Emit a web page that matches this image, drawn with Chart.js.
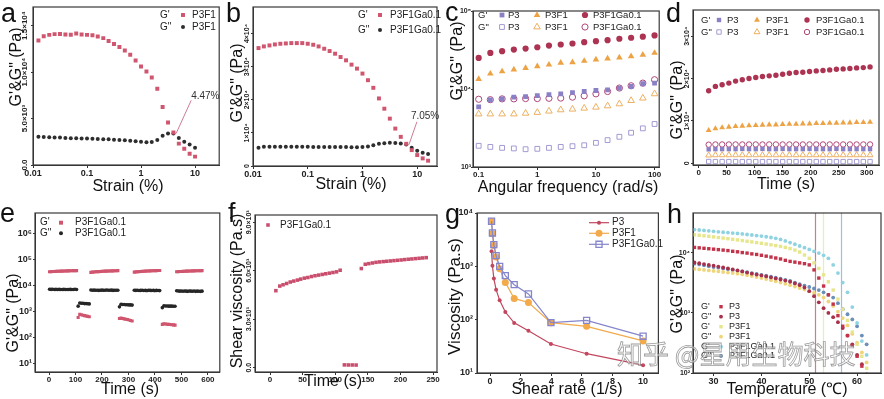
<!DOCTYPE html>
<html><head><meta charset="utf-8">
<script src="https://cdn.jsdelivr.net/npm/chart.js@4.4.0/dist/chart.umd.min.js"></script>
<style>
html,body{margin:0;padding:0;background:#fff;}
#wrap{position:relative;width:884px;height:399px;overflow:hidden;background:#fff;}
canvas{position:absolute;}
#wm{position:absolute;left:617px;top:340px;font-size:26px;font-family:"Noto Sans CJK SC",sans-serif;line-height:1;color:rgba(255,255,255,0.55);-webkit-text-stroke:0.8px rgba(120,120,120,0.75);white-space:nowrap;pointer-events:none;}
</style></head><body>
<div id="wrap">
<canvas id="pa" width="222" height="200" style="left:0px;top:0px"></canvas>
<canvas id="pb" width="220" height="200" style="left:222px;top:0px"></canvas>
<canvas id="pc" width="222" height="200" style="left:442px;top:0px"></canvas>
<canvas id="pd" width="220" height="200" style="left:664px;top:0px"></canvas>
<canvas id="pe" width="222" height="199" style="left:0px;top:200px"></canvas>
<canvas id="pf" width="220" height="199" style="left:222px;top:200px"></canvas>
<canvas id="pg" width="222" height="199" style="left:442px;top:200px"></canvas>
<canvas id="ph" width="220" height="199" style="left:664px;top:200px"></canvas>
<div id="wm">知乎 @星用生物科技</div>
</div>
<script>
// ---------------- DATA ----------------
const sampleNames = ['P3', 'P3F1', 'P3F1Ga0.1'];
const modNames = ["G'", 'G"'];

// a: strain sweep P3F1
const aStrain = [0.0126,0.0158,0.02,0.0251,0.0316,0.0398,0.0501,0.0631,0.0794,0.1,0.126,0.158,0.2,0.251,0.316,0.398,0.501,0.631,0.794,1,1.26,1.58,2,2.51,3.16,3.98,5.01,6.31,7.94,10];
const aGp = [13400,13850,14000,14080,14100,14050,14020,14150,14050,14000,13950,13820,13650,13350,13020,12700,12330,11870,11250,10600,10070,9420,8200,6250,4570,3500,2300,1750,1200,900];
const aGpp = [3050,3000,2980,2950,2950,2900,2880,2870,2850,2840,2820,2800,2780,2760,2730,2700,2660,2620,2560,2500,2450,2480,2700,3150,3400,3380,2900,2500,2200,1850];
const aYield = [4.47, 3400];
const aXTicks = [0.01,0.1,1,10], aXLabels = ['0.01','0.1','1','10'];
const aYTicks = [0,5000,10000,15000], aYLabels = ['0.0','5.0×10³','1.0×10⁴','1.5×10⁴'];

// b: strain sweep P3F1Ga0.1
const bStrain = [0.0126,0.0158,0.02,0.0251,0.0316,0.0398,0.0501,0.0631,0.0794,0.1,0.126,0.158,0.2,0.251,0.316,0.398,0.501,0.631,0.794,1,1.26,1.58,2,2.51,3.16,3.98,5.01,6.31,7.94,10,12.6,15.8];
const bGp = [35600,36100,36400,36700,36900,37000,37100,37100,37100,36900,36600,36100,35400,34700,33900,32900,31900,30600,29400,27900,25900,23600,20400,17300,14300,11300,8800,6700,4800,3300,2300,1600];
const bGpp = [5500,5800,5800,5800,5800,5800,5800,5800,5800,5800,5750,5750,5750,5700,5700,5700,5700,5650,5650,5700,5900,6300,6700,6900,7000,6950,6800,6500,5500,4600,4000,3600];
const bYield = [7.05, 6400];
const bYTicks = [0,10000,20000,30000,40000], bYLabels = ['0','1×10⁴','2×10⁴','3×10⁴','4×10⁴'];

// c: frequency sweep
const cFreq = [0.1,0.158,0.251,0.398,0.631,1,1.58,2.51,3.98,6.31,10,15.8,25.1,39.8,63.1,100];
const cP3Gp = [5900,7250,7460,7850,8000,8240,8450,8670,9010,9290,9570,9770,10280,10770,11670,11900];
const cP3Gpp = [1870,1810,1760,1730,1690,1710,1760,1810,1850,1900,2040,2210,2440,2750,3130,3560];
const cF1Gp = [13400,15700,16800,17700,18600,19500,20500,21600,22000,22900,23800,24500,25300,26300,27400,29000];
const cF1Gpp = [4780,4780,4780,4780,4880,5000,5200,5400,5510,5670,5840,6070,6440,7110,7640,8670];
const cGaGp = [25000,29000,30500,32000,33000,34300,36000,37200,38300,39800,41000,42300,44100,45400,46800,48600];
const cGaGpp = [7390,7300,7470,7470,7540,7540,7600,7640,7860,8170,8670,9290,10280,11000,11900,13150];
const cXTicks = [0.1,1,10,100], cXLabels = ['0.1','1','10','100'];
const cYTicks = [1000,10000,100000], cYLabels = ['10³','10⁴','10⁵'];

// d: time sweep
const dTime = [18,30,42,54,66,78,90,102,114,126,138,150,162,174,186,198,210,222,234,246,258,270,282,294,306];
const dP3Gp = [3300,3350,3350,3350,3350,3400,3350,3350,3400,3350,3350,3400,3350,3350,3350,3400,3350,3350,3350,3400,3350,3350,3350,3350,3350];
const dP3Gpp = [420,400,400,400,410,400,400,400,400,400,400,400,400,400,400,400,400,400,400,400,400,400,400,400,400];
const dF1Gp = [7790,8180,8420,8570,8730,8810,8890,8960,9040,9120,9120,9200,9270,9270,9350,9350,9430,9430,9510,9510,9590,9590,9660,9660,9740];
const dF1Gpp = [1900,1950,1950,1950,1950,1950,1950,1950,1950,1950,1950,1950,1950,1950,1950,1950,1950,1950,1950,1950,1950,1950,1950,1950,1950];
const dGaGp = [17150,18160,18550,18940,19410,19720,20030,20260,20500,20650,20810,21040,21280,21430,21510,21670,21820,21900,22060,22210,22290,22370,22530,22600,22760];
const dGaGpp = [4400,4450,4450,4450,4450,4450,4450,4450,4450,4450,4450,4450,4450,4450,4450,4450,4450,4450,4450,4450,4450,4450,4450,4450,4450];
const dXTicks = [0,50,100,150,200,250,300], dXLabels = ['0','50','100','150','200','250','300'];
const dYTicks = [0,10000,20000,30000], dYLabels = ['0','1×10⁴','2×10⁴','3×10⁴'];

// e: step strain recovery
const eTime = [2,8,14,20,26,32,38,44,50,56,62,68,74,80,86,92,98,104,
  110,116,122,128,134,140,146,152,
  158,164,170,176,182,188,194,200,206,212,218,224,230,236,242,248,254,260,
  266,272,278,284,290,296,302,308,314,
  322,328,334,340,346,352,358,364,370,376,382,388,394,400,406,412,418,
  428,434,440,446,452,458,464,470,476,
  482,488,494,500,506,512,518,524,530,536,542,548,554,560,566,572,578];
const eGp = [33000,33500,33800,34000,34300,34500,34800,35000,35200,35400,35600,35800,36000,36200,36300,36500,36700,36800,
  590,770,750,720,690,670,650,630,
  31500,32200,32600,33000,33400,33700,34000,34300,34600,34900,35200,35400,35600,35800,36000,36200,36400,36600,
  540,560,540,520,500,490,470,450,430,
  32000,32700,33200,33600,34000,34400,34700,35000,35300,35600,35900,36100,36300,36500,36700,36900,37100,
  320,340,330,325,320,315,310,305,300,
  33000,33400,33800,34100,34400,34700,34900,35100,35300,35500,35700,35900,36100,36200,36400,36500,36700];
const eGpp = [7100,7000,7050,6950,7000,6900,7000,6950,6900,7000,6950,6900,6950,7000,6900,6950,7050,6900,
  1600,2100,2050,2050,2000,2000,1980,1950,
  6600,6500,6550,6450,6500,6400,6500,6550,6450,6500,6600,6450,6500,6550,6400,6500,6450,6500,
  1500,1900,1850,1850,1800,1800,1780,1780,1750,
  6500,6400,6450,6350,6400,6450,6350,6400,6300,6450,6400,6350,6400,6300,6400,6350,6300,
  1400,1650,1620,1620,1600,1600,1600,1580,1580,
  6200,6100,6000,6100,5950,6050,6000,5900,6100,6000,5950,6050,5900,6000,5950,5900,6000];
const eXTicks = [0,100,200,300,400,500,600], eXLabels = ['0','100','200','300','400','500','600'];
const eYTicks = [10,100,1000,10000,100000,1000000], eYLabels = ['10¹','10²','10³','10⁴','10⁵','10⁶'];

// f: shear viscosity recovery
const fTime = [9,15,20,25.5,31,36.5,42,47,52.5,58,63.5,69,74.5,80,85.5,91,96.5,102,107.5,
  114,120,126,132,
  140,146,151.5,157,162.5,168,173.5,179,184.5,190,195.5,201,206.5,212,217.5,223,228.5,234,239.5];
const fVisc = [4765,5050,5130,5210,5300,5360,5420,5480,5540,5580,5640,5690,5730,5770,5810,5850,5890,5930,6030,
  170,165,165,160,
  6135,6400,6440,6480,6520,6545,6565,6585,6605,6625,6645,6665,6690,6710,6730,6750,6770,6790,6810];
const fXTicks = [0,50,100,150,200,250], fXLabels = ['0','50','100','150','200','250'];
const fYTicks = [0,3000,6000,9000], fYLabels = ['0.0','3.0×10³','6.0×10³','9.0×10³'];

// g: viscosity vs shear rate
const gRate = [0.1,0.158,0.251,0.398,0.631,1,1.58,2.51,3.98,6.31,10];
const gP3 = [1910,1030,590,365,230,139,87,62,35,23,14];
const gF1 = [6900,4100,2450,1500,900,500,250,210,88,75,40];
const gGa = [7000,4220,2550,1590,1000,670,453,303,88,97,49];
const gXTicks = [0,2,4,6,8,10], gXLabels = ['0','2','4','6','8','10'];
const gYTicks = [10,100,1000,10000], gYLabels = ['10¹','10²','10³','10⁴'];

// h: temperature sweep
const hTemp = [26,27,28,29,30,31,32,33,34,35,36,37,38,39,40,41,42,43,44,45,46,47,48,49,50,51,52,53,54,55,56,57,58,59,60,61,62];
const hP3Gp = [12300,12100,11900,11700,11500,11300,11100,10900,10600,10400,10100,9900,9600,9400,9100,8800,8500,8200,7900,7500,7200,7000,6800,6600,6300,5200,3800,2800,2000,1400,900,600,420,290,190,130,90];
const hP3Gpp = [6900,6700,6500,6300,6100,5900,5700,5500,5300,5100,4900,4700,4500,4350,4200,4050,3900,3750,3600,3450,3300,3100,2900,2650,2300,1900,1500,1200,1000,850,700,560,420,300,200,140,95];
const hF1Gp = [20000,19600,19200,18800,18400,18000,17600,17200,16800,16400,16000,15600,15200,14800,14400,14000,13600,13200,12800,12300,11800,11100,10300,9200,8100,6800,5500,4300,3300,2400,1700,1150,750,480,300,190,120];
const hF1Gpp = [5400,5300,5200,5100,5000,4900,4800,4700,4600,4500,4400,4250,4100,3950,3800,3650,3500,3350,3200,3050,2900,2750,2600,2450,2300,2150,2000,1800,1550,1300,1050,820,620,450,320,220,150];
const hGaGp = [24400,24000,23600,23200,22800,22400,22000,21700,21300,21000,20600,20200,19800,19400,19000,18500,18000,17400,16700,15800,14800,13900,13000,12200,11400,10600,9900,9100,8100,6300,4600,3200,2200,1250,680,340,200];
const hGaGpp = [6600,6400,6200,6000,5800,5650,5500,5350,5200,5050,4900,4750,4600,4450,4300,4150,4000,3850,3700,3550,3400,3200,3000,2850,2700,2550,2400,2200,2000,1800,1450,1150,950,780,600,420,300];
const hGelT = [51.1, 52.9, 56.6];
const hXTicks = [30,40,50,60], hXLabels = ['30','40','50','60'];
const hYTicks = [100,1000,10000], hYLabels = ['10²','10³','10⁴'];

// ---------------- HELPERS ----------------
const FONT = 'Arial, "Liberation Sans", Helvetica, sans-serif';
Chart.defaults.font.family = FONT;
Chart.defaults.color = '#222';

function pts(xs, ys) { const o = []; for (let i = 0; i < xs.length; i++) if (ys[i] != null) o.push({x: xs[i], y: ys[i]}); return o; }

function measureWidest(labels, size) {
  const c = document.createElement('canvas').getContext('2d');
  c.font = 'bold ' + size + 'px ' + FONT;
  let w = 0; labels.forEach(l => { w = Math.max(w, c.measureText(l).width); });
  return w;
}

function xAxis(o) {
  return {
    type: o.type || 'linear', min: o.min, max: o.max,
    grid: {display: true, drawOnChartArea: false, drawTicks: true, tickLength: 3, color: '#333', lineWidth: 1},
    border: {display: true, color: '#333', width: 1},
    ticks: {autoSkip: false, maxRotation: 0, minRotation: 0, padding: 0, color: '#222',
      font: {family: FONT, size: o.size || 9, weight: 'bold'},
      callback: (v, i) => o.labels[i]},
    afterBuildTicks: s => { s.ticks = o.ticks.map(v => ({value: v})); },
    afterFit: s => { s.height = o.h; s.paddingLeft = 0; s.paddingRight = 0; }
  };
}
function yAxis(o) {
  const tl = 2;
  let padding = o.pad != null ? o.pad : 1;
  if (o.rotated) padding = o.center - tl - measureWidest(o.labels, o.size) / 2;
  return {
    type: o.type || 'linear', min: o.min, max: o.max,
    grid: {display: true, drawOnChartArea: false, drawTicks: true, tickLength: tl, color: '#333', lineWidth: 1},
    border: {display: true, color: '#333', width: 1},
    ticks: {autoSkip: false, padding, color: '#222',
      minRotation: o.rotated ? 90 : 0, maxRotation: o.rotated ? 90 : 0,
      crossAlign: o.rotated ? 'center' : 'near',
      font: {family: FONT, size: o.size, weight: 'bold'},
      callback: (v, i) => o.labels[i]},
    afterBuildTicks: s => { s.ticks = o.ticks.map(v => ({value: v})); },
    afterFit: s => { s.width = o.w; s.paddingTop = 0; s.paddingBottom = 0; }
  };
}
function ds(data, mk, extra) {
  return Object.assign({
    data, pointStyle: mk.style, pointRadius: mk.r, pointHoverRadius: mk.r,
    pointBackgroundColor: mk.fill || 'rgba(0,0,0,0)',
    pointBorderColor: mk.stroke || mk.fill, pointBorderWidth: mk.lw || 0,
    backgroundColor: mk.fill || 'rgba(0,0,0,0)', borderColor: mk.stroke || mk.fill,
    showLine: false
  }, extra || {});
}
function drawMk(ctx, mk, x, y) {
  ctx.save();
  const r = mk.lr || mk.r;
  ctx.beginPath();
  if (mk.style === 'rect') { const s = r * Math.SQRT1_2; ctx.rect(x - s, y - s, 2 * s, 2 * s); }
  else if (mk.style === 'triangle') { ctx.moveTo(x, y - r); ctx.lineTo(x + r * 0.866, y + r * 0.5); ctx.lineTo(x - r * 0.866, y + r * 0.5); ctx.closePath(); }
  else ctx.arc(x, y, r, 0, Math.PI * 2);
  if (mk.fill) { ctx.fillStyle = mk.fill; ctx.fill(); }
  if (mk.lw) { ctx.strokeStyle = mk.stroke; ctx.lineWidth = mk.lw; ctx.stroke(); }
  ctx.restore();
}

const DECO = {};
const decoPlugin = {
  id: 'deco',
  beforeDatasetsDraw(chart) {
    const d = DECO[chart.canvas.id]; if (!d || !d.vlines) return;
    const ctx = chart.ctx, ca = chart.chartArea;
    ctx.save();
    d.vlines.forEach(v => {
      const px = Math.round(chart.scales.x.getPixelForValue(v.x)) + 0.5;
      ctx.strokeStyle = v.color; ctx.lineWidth = 1.2;
      ctx.beginPath(); ctx.moveTo(px, ca.top); ctx.lineTo(px, ca.bottom); ctx.stroke();
    });
    ctx.restore();
  },
  afterDraw(chart) {
    const d = DECO[chart.canvas.id]; if (!d) return;
    const ctx = chart.ctx, ca = chart.chartArea;
    ctx.save();
    ctx.strokeStyle = '#3a3a3a'; ctx.lineWidth = 1.2;
    ctx.strokeRect(ca.left, ca.top, ca.right - ca.left, ca.bottom - ca.top);
    // panel letter
    ctx.fillStyle = '#111'; ctx.textAlign = 'left'; ctx.textBaseline = 'alphabetic';
    ctx.font = '27px ' + FONT;
    ctx.fillText(d.letter, d.letterPos[0], d.letterPos[1]);
    // axis titles
    ctx.textAlign = 'center'; ctx.textBaseline = 'middle';
    ctx.font = (d.xSize || 16) + 'px ' + FONT;
    ctx.fillText(d.xTitle, d.xT[0], d.xT[1]);
    ctx.save(); ctx.translate(d.yT[0], d.yT[1]); ctx.rotate(-Math.PI / 2);
    ctx.font = (d.ySize || 16) + 'px ' + FONT; ctx.fillText(d.yTitle, 0, 0); ctx.restore();
    // legend
    if (d.legend) {
      ctx.font = (d.legend.size || 9.5) + 'px ' + FONT; ctx.fillStyle = '#222';
      ctx.textAlign = 'left'; ctx.textBaseline = 'middle';
      d.legend.rows.forEach(row => {
        if (row.prefix) { ctx.fillStyle = '#222'; ctx.fillText(row.prefix, row.px, row.y); }
        row.cells.forEach(c => {
          const mk = chart.data.datasets[c.ds]._mk;
          if (c.line) { ctx.strokeStyle = c.line; ctx.lineWidth = 1.2; ctx.beginPath(); ctx.moveTo(c.mx - 10, row.y); ctx.lineTo(c.mx + 10, row.y); ctx.stroke(); }
          drawMk(ctx, mk, c.mx, row.y);
          ctx.fillStyle = '#222'; ctx.fillText(chart.data.datasets[c.ds].label, c.tx, row.y);
        });
      });
    }
    // yield annotation
    if (d.annot) {
      const a = d.annot;
      const px = chart.scales.x.getPixelForValue(a.x), py = chart.scales.y.getPixelForValue(a.y);
      ctx.strokeStyle = '#cf7a92'; ctx.lineWidth = 1;
      ctx.beginPath(); ctx.moveTo(px, py); ctx.lineTo(px + a.lx, py + a.ly); ctx.stroke();
      ctx.fillStyle = '#333'; ctx.font = '10px ' + FONT; ctx.textAlign = 'left'; ctx.textBaseline = 'middle';
      ctx.fillText(a.text, px + a.tx, py + a.ty);
    }
    ctx.restore();
  }
};

function makeChart(id, p) {
  const datasets = p.datasets.map(x => { const dset = ds(x.data, x.mk, x.extra); dset.label = x.label; dset._mk = x.mk; return dset; });
  DECO[id] = p.deco;
  return new Chart(document.getElementById(id), {
    type: 'scatter',
    data: {datasets},
    options: {
      responsive: false, animation: false, devicePixelRatio: 1,
      layout: {padding: {left: 0, right: p.padR, top: p.padT, bottom: 0}},
      plugins: {legend: {display: false}, tooltip: {enabled: false}},
      scales: {x: p.x, y: p.y}
    },
    plugins: [decoPlugin]
  });
}

// ---------------- STYLES ----------------
const MK = {
  redSq: {style: 'rect', r: 2.8, fill: '#d0566f'},
  darkCi: {style: 'circle', r: 2, fill: '#2e2e2e'},
  cP3: {style: 'rect', r: 3.4, fill: '#8a80c6'},
  cP3o: {style: 'rect', r: 3.4, stroke: '#a29bd2', lw: 1},
  cF1: {style: 'triangle', r: 3.8, fill: '#eda244'},
  cF1o: {style: 'triangle', r: 3.8, stroke: '#ecb062', lw: 1},
  cGa: {style: 'circle', r: 3.1, fill: '#ad3352'},
  cGao: {style: 'circle', r: 3.1, stroke: '#ae4678', lw: 1},
  dP3: {style: 'rect', r: 3.1, fill: '#8a80c6'},
  dP3o: {style: 'rect', r: 3.1, stroke: '#a29bd2', lw: 1},
  dF1: {style: 'triangle', r: 3.4, fill: '#eda244'},
  dF1o: {style: 'triangle', r: 3.4, stroke: '#ecb062', lw: 1},
  dGa: {style: 'circle', r: 2.7, fill: '#ad3352'},
  dGao: {style: 'circle', r: 2.7, stroke: '#ae4678', lw: 1},
  eSq: {style: 'rect', r: 2.2, fill: '#d0566f', lr: 2.8},
  eCi: {style: 'circle', r: 1.8, fill: '#262626', lr: 2},
  fSq: {style: 'rect', r: 2.5, fill: '#c94d6c'},
  gP3: {style: 'circle', r: 2, fill: '#c2465e'},
  gF1: {style: 'circle', r: 3.5, fill: '#f2aa4a'},
  gGa: {style: 'rect', r: 4.3, stroke: '#8585cc', lw: 1.3},
  hP3: {style: 'rect', r: 2.4, fill: '#c2334a'},
  hP3o: {style: 'circle', r: 1.9, fill: '#a8304a'},
  hF1: {style: 'rect', r: 2.4, fill: '#e6e68c'},
  hF1o: {style: 'circle', r: 1.9, fill: '#f0d47a'},
  hGa: {style: 'circle', r: 1.9, fill: '#8fd3e3'},
  hGao: {style: 'circle', r: 1.9, fill: '#6a8fb8'}
};

// ---------------- PANELS ----------------
makeChart('pa', {
  padT: 7, padR: 1,
  x: xAxis({type: 'logarithmic', min: 0.01, max: 28, ticks: aXTicks, labels: aXLabels, h: 35, size: 9}),
  y: yAxis({min: 0, max: 17000, ticks: aYTicks, labels: aYLabels, w: 33, size: 8, rotated: true, center: 8}),
  datasets: [
    {label: sampleNames[1], data: pts(aStrain, aGp), mk: MK.redSq},
    {label: sampleNames[1], data: pts(aStrain, aGpp), mk: MK.darkCi}
  ],
  deco: {letter: 'a', letterPos: [1, 22], xTitle: 'Strain (%)', xT: [128, 187], yTitle: 'G\'&G" (Pa)', yT: [17, 67],
    legend: {size: 10, rows: [
      {y: 15, prefix: modNames[0], px: 160, cells: [{ds: 0, mx: 183, tx: 192}]},
      {y: 27, prefix: modNames[1], px: 160, cells: [{ds: 1, mx: 183, tx: 192}]}]},
    annot: {x: aYield[0], y: aYield[1], lx: 15, ly: -33, tx: 15, ty: -37, text: aYield[0].toFixed(2) + '%'}}
});

makeChart('pb', {
  padT: 7, padR: 5,
  x: xAxis({type: 'logarithmic', min: 0.01, max: 23, ticks: aXTicks, labels: aXLabels, h: 34, size: 9}),
  y: yAxis({min: 0, max: 48000, ticks: bYTicks, labels: bYLabels, w: 31, size: 7, rotated: true, center: 6}),
  datasets: [
    {label: sampleNames[2], data: pts(bStrain, bGp), mk: MK.redSq},
    {label: sampleNames[2], data: pts(bStrain, bGpp), mk: MK.darkCi}
  ],
  deco: {letter: 'b', letterPos: [4, 22], xTitle: 'Strain (%)', xT: [129, 185], yTitle: 'G\'&G" (Pa)', yT: [16, 83],
    legend: {size: 10, rows: [
      {y: 15, prefix: modNames[0], px: 136, cells: [{ds: 0, mx: 158, tx: 168}]},
      {y: 30, prefix: modNames[1], px: 136, cells: [{ds: 1, mx: 158, tx: 168}]}]},
    annot: {x: bYield[0], y: bYield[1], lx: 8, ly: -23, tx: 2, ty: -29, text: bYield[0].toFixed(2) + '%'}}
});

makeChart('pc', {
  padT: 11, padR: 4,
  x: xAxis({type: 'logarithmic', min: 0.08, max: 120, ticks: cXTicks, labels: cXLabels, h: 33, size: 8}),
  y: yAxis({type: 'logarithmic', min: 1000, max: 100000, ticks: cYTicks, labels: cYLabels, w: 31, size: 7, pad: 0}),
  datasets: [
    {label: sampleNames[0], data: pts(cFreq, cP3Gp), mk: MK.cP3},
    {label: sampleNames[1], data: pts(cFreq, cF1Gp), mk: MK.cF1},
    {label: sampleNames[2], data: pts(cFreq, cGaGp), mk: MK.cGa},
    {label: sampleNames[0], data: pts(cFreq, cP3Gpp), mk: MK.cP3o},
    {label: sampleNames[1], data: pts(cFreq, cF1Gpp), mk: MK.cF1o},
    {label: sampleNames[2], data: pts(cFreq, cGaGpp), mk: MK.cGao}
  ],
  deco: {letter: 'c', letterPos: [3, 21], xTitle: 'Angular frequency (rad/s)', xT: [126, 188], yTitle: 'G\'&G" (Pa)', yT: [15.5, 61],
    legend: {size: 9.5, rows: [
      {y: 15, prefix: modNames[0], px: 36, cells: [{ds: 0, mx: 60, tx: 66}, {ds: 1, mx: 95, tx: 103}, {ds: 2, mx: 143, tx: 151}]},
      {y: 27, prefix: modNames[1], px: 36, cells: [{ds: 3, mx: 60, tx: 66}, {ds: 4, mx: 95, tx: 103}, {ds: 5, mx: 143, tx: 151}]}]}}
});

makeChart('pd', {
  padT: 10, padR: 5,
  x: xAxis({min: -10, max: 322, ticks: dXTicks, labels: dXLabels, h: 35, size: 8}),
  y: yAxis({min: -400, max: 36200, ticks: dYTicks, labels: dYLabels, w: 29, size: 7, rotated: true, center: 6}),
  datasets: [
    {label: sampleNames[0], data: pts(dTime, dP3Gp), mk: MK.dP3},
    {label: sampleNames[1], data: pts(dTime, dF1Gp), mk: MK.dF1},
    {label: sampleNames[2], data: pts(dTime, dGaGp), mk: MK.dGa},
    {label: sampleNames[0], data: pts(dTime, dP3Gpp), mk: MK.dP3o},
    {label: sampleNames[1], data: pts(dTime, dF1Gpp), mk: MK.dF1o},
    {label: sampleNames[2], data: pts(dTime, dGaGpp), mk: MK.dGao}
  ],
  deco: {letter: 'd', letterPos: [2, 22], xTitle: 'Time (s)', xT: [122, 185], yTitle: 'G\'&G" (Pa)', yT: [14, 100],
    legend: {size: 9.5, rows: [
      {y: 20, prefix: modNames[0], px: 37, cells: [{ds: 0, mx: 55, tx: 63}, {ds: 1, mx: 93, tx: 102}, {ds: 2, mx: 143, tx: 152}]},
      {y: 32, prefix: modNames[1], px: 37, cells: [{ds: 3, mx: 55, tx: 63}, {ds: 4, mx: 93, tx: 102}, {ds: 5, mx: 143, tx: 152}]}]}}
});

makeChart('pe', {
  padT: 13, padR: 0,
  x: xAxis({min: -53, max: 645, ticks: eXTicks, labels: eXLabels, h: 27, size: 8}),
  y: yAxis({type: 'logarithmic', min: 4.8, max: 5.9e6, ticks: eYTicks, labels: eYLabels, w: 35, size: 9, pad: 1}),
  datasets: [
    {label: sampleNames[2], data: pts(eTime, eGp), mk: MK.eSq},
    {label: sampleNames[2], data: pts(eTime, eGpp), mk: MK.eCi}
  ],
  deco: {letter: 'e', letterPos: [0, 22], xTitle: 'Time (s)', xT: [130, 190], yTitle: 'G\'&G" (Pa)', yT: [14, 113],
    legend: {size: 10, rows: [
      {y: 22.7, prefix: modNames[0], px: 40, cells: [{ds: 0, mx: 61, tx: 75}]},
      {y: 33.3, prefix: modNames[1], px: 40, cells: [{ds: 1, mx: 61, tx: 75}]}]}}
});

makeChart('pf', {
  padT: 15, padR: 5,
  x: xAxis({min: -23, max: 256, ticks: fXTicks, labels: fXLabels, h: 27, size: 8}),
  y: yAxis({min: -270, max: 9450, ticks: fYTicks, labels: fYLabels, w: 33, size: 7, rotated: true, center: 6}),
  datasets: [
    {label: sampleNames[2], data: pts(fTime, fVisc), mk: MK.fSq}
  ],
  deco: {letter: 'f', letterPos: [6, 22], xTitle: 'Time (s)', xT: [111, 182], yTitle: 'Shear viscosity (Pa.s)', yT: [16, 91],
    legend: {size: 10, rows: [{y: 25, cells: [{ds: 0, mx: 46, tx: 58}]}]}}
});

makeChart('pg', {
  padT: 13, padR: 1,
  x: xAxis({min: -0.85, max: 11, ticks: gXTicks, labels: gXLabels, h: 26, size: 9}),
  y: yAxis({type: 'logarithmic', min: 10, max: 10000, ticks: gYTicks, labels: gYLabels, w: 35, size: 9, pad: 2}),
  datasets: [
    {label: sampleNames[2], data: pts(gRate, gGa), mk: MK.gGa, extra: {showLine: true, borderColor: '#8585cc', borderWidth: 1.2, order: 0}},
    {label: sampleNames[1], data: pts(gRate, gF1), mk: MK.gF1, extra: {showLine: true, borderColor: '#f2aa4a', borderWidth: 1.2, order: 1}},
    {label: sampleNames[0], data: pts(gRate, gP3), mk: MK.gP3, extra: {showLine: true, borderColor: '#c2465e', borderWidth: 1.2, order: 2}}
  ],
  deco: {letter: 'g', letterPos: [3, 23], xTitle: 'Shear rate (1/s)', xT: [125, 190], yTitle: 'Viscosity (Pa.s)', ySize: 17, yT: [13, 96.5],
    legend: {size: 10, rows: [
      {y: 22.7, cells: [{ds: 2, mx: 157, tx: 170, line: '#c2465e'}]},
      {y: 33.3, cells: [{ds: 1, mx: 157, tx: 170, line: '#f2aa4a'}]},
      {y: 44.3, cells: [{ds: 0, mx: 157, tx: 170, line: '#8585cc'}]}]}}
});

makeChart('ph', {
  padT: 13, padR: 3,
  x: xAxis({min: 25.7, max: 65, ticks: hXTicks, labels: hXLabels, h: 26, size: 9}),
  y: yAxis({type: 'logarithmic', min: 100, max: 46000, ticks: hYTicks, labels: hYLabels, w: 29, size: 7, pad: 1}),
  datasets: [
    {label: sampleNames[0], data: pts(hTemp, hP3Gp), mk: MK.hP3, extra: {clip: 0}},
    {label: sampleNames[0], data: pts(hTemp, hP3Gpp), mk: MK.hP3o, extra: {clip: 0}},
    {label: sampleNames[1], data: pts(hTemp, hF1Gp), mk: MK.hF1, extra: {clip: 0}},
    {label: sampleNames[1], data: pts(hTemp, hF1Gpp), mk: MK.hF1o, extra: {clip: 0}},
    {label: sampleNames[2], data: pts(hTemp, hGaGp), mk: MK.hGa, extra: {clip: 0}},
    {label: sampleNames[2], data: pts(hTemp, hGaGpp), mk: MK.hGao, extra: {clip: 0}}
  ],
  deco: {letter: 'h', letterPos: [3, 23], xTitle: 'Temperature (℃)', xT: [123, 190], yTitle: 'G\'&G" (Pa)', yT: [14, 94],
    vlines: [{x: hGelT[0], color: '#d27a88'}, {x: hGelT[1], color: '#ecebb0'}, {x: hGelT[2], color: '#9fbfdc'}],
    legend: {size: 9, rows: [
      {y: 106.7, prefix: modNames[0], px: 37, cells: [{ds: 0, mx: 57, tx: 65}]},
      {y: 116.7, prefix: modNames[1], px: 37, cells: [{ds: 1, mx: 57, tx: 65}]},
      {y: 126.7, prefix: modNames[0], px: 37, cells: [{ds: 2, mx: 57, tx: 65}]},
      {y: 136.7, prefix: modNames[1], px: 37, cells: [{ds: 3, mx: 57, tx: 65}]},
      {y: 146.7, prefix: modNames[0], px: 37, cells: [{ds: 4, mx: 57, tx: 65}]},
      {y: 156.0, prefix: modNames[1], px: 37, cells: [{ds: 5, mx: 57, tx: 65}]}]}}
});
</script>
</body></html>
